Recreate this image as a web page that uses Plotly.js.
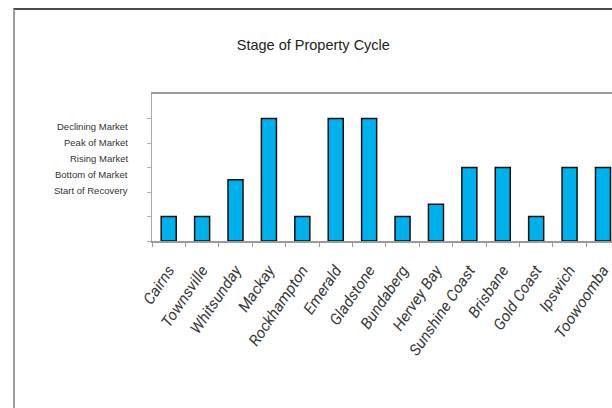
<!DOCTYPE html>
<html>
<head>
<meta charset="utf-8">
<script src="https://cdn.plot.ly/plotly-3.0.1.min.js"></script>
<style>
  html, body { margin: 0; padding: 0; background: #fff; overflow: hidden; }
  #wrap { position: relative; width: 612px; height: 408px; }
  #chart { width: 612px; height: 408px; }
  #frame { position: absolute; left: 13px; top: 8px; right: 0; bottom: 0;
           border-top: 2px solid #4a4a4a; border-left: 2px solid #a0a0a0; pointer-events: none; }
  #chart .xtick text { font-style: italic !important; }
</style>
</head>
<body>
<div id="wrap">
  <div id="chart"></div>
  <div id="frame"></div>
</div>
<script>
// Data
const regions = ["Cairns", "Townsville", "Whitsunday", "Mackay", "Rockhampton", "Emerald",
  "Gladstone", "Bundaberg", "Hervey Bay", "Sunshine Coast", "Brisbane", "Gold Coast",
  "Ipswich", "Toowoomba"];
const stageValues = [1, 1, 2.5, 5, 1, 5, 5, 1, 1.5, 3, 3, 1, 3, 3];
const stageLabels = ["Declining Market", "Peak of Market", "Rising Market",
  "Bottom of Market", "Start of Recovery"];
const chartTitle = "Stage of Property Cycle";

const trace = {
  type: "bar",
  x: regions,
  y: stageValues,
  width: 0.45,
  marker: { color: "#00B0EA", line: { color: "#111111", width: 1.5 } },
  hoverinfo: "x+y"
};

const sans = "'Liberation Sans', Arial, sans-serif";

const annotations = stageLabels.map((t, i) => ({
  text: t,
  xref: "paper", yref: "paper",
  x: -0.047, y: 0.776 - i * 0.108,
  xanchor: "right", yanchor: "middle",
  showarrow: false,
  font: { family: sans, size: 9.5, color: "#333333" }
}));

const layout = {
  width: 612, height: 408,
  margin: { l: 152, r: 0, t: 94, b: 167, pad: 0 },
  paper_bgcolor: "#ffffff",
  plot_bgcolor: "#ffffff",
  showlegend: false,
  title: {
    text: chartTitle,
    xref: "container", yref: "container",
    x: 0.512, y: 0.89, xanchor: "center", yanchor: "middle",
    font: { family: sans, size: 14.5, color: "#222222" }
  },
  xaxis: {
    type: "category",
    range: [-0.5, 13.27],
    showline: true, linecolor: "#9a9a9a", linewidth: 2, mirror: true,
    showgrid: false, zeroline: false,
    ticks: "outside", tickson: "boundaries", ticklen: 4, tickcolor: "#9a9a9a", tickwidth: 1,
    tickangle: -56,
    ticklabelstandoff: 12,
    tickfont: { family: "Roboto, 'Open Sans', 'Liberation Sans', sans-serif", size: 15.5, color: "#3a3a3a", style: "italic" }
  },
  yaxis: {
    range: [0, 6],
    showline: true, linecolor: "#a8a8a8", linewidth: 1.5,
    showgrid: false, zeroline: false,
    tickmode: "array", tickvals: [0, 1, 2, 3, 4, 5],
    ticks: "outside", ticklen: 4, tickcolor: "#b0b0b0", tickwidth: 1,
    showticklabels: false
  },
  annotations: annotations
};

Plotly.newPlot("chart", [trace], layout, { displayModeBar: false, staticPlot: true });
</script>
</body>
</html>
